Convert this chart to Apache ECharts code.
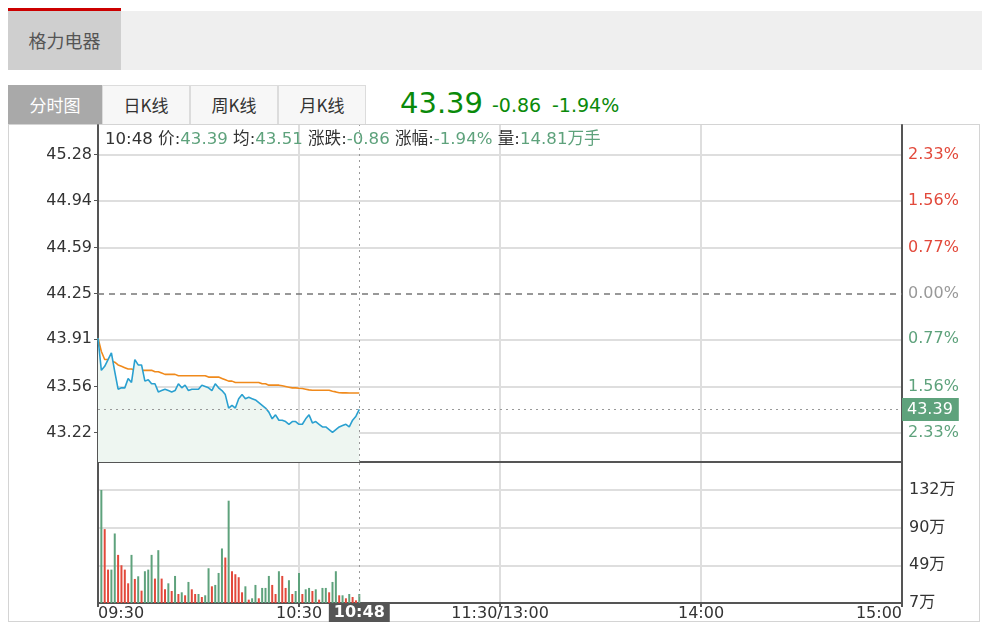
<!DOCTYPE html>
<html>
<head>
<meta charset="utf-8">
<script src="https://cdn.jsdelivr.net/npm/echarts@6/dist/echarts.min.js"></script>
<style>
html,body{margin:0;padding:0}
body{width:982px;height:640px;position:relative;background:#fff;overflow:hidden;font-family:"DejaVu Sans","Noto Sans CJK SC",sans-serif}
#redbar{position:absolute;left:8px;top:8px;width:113px;height:3px;background:#cc0000}
#band{position:absolute;left:8px;top:11px;width:974px;height:59px;background:#efefef}
#stock{position:absolute;left:8px;top:11px;width:113px;height:59px;background:#cfcfcf;color:#555;font-size:18px;line-height:59px;text-align:center;font-family:"Noto Sans CJK SC",sans-serif}
.tab{position:absolute;top:85px;height:39px;line-height:38px;text-align:center;font-size:17px;box-sizing:border-box;border:1px solid #dcdcdc;border-bottom:none;background:#f7f7f7;color:#333;font-family:"Noto Sans CJK SC","DejaVu Sans",sans-serif}
#t0{left:8px;width:94px;background:#a9a9a9;color:#fff;border-color:#a9a9a9}
#t1{left:102px;width:88px}
#t2{left:190px;width:88px}
#t3{left:278px;width:88px}
#quote{position:absolute;left:400px;top:84px;color:#0a8a0a;white-space:nowrap;height:36px}
#qp{font-size:29px;position:absolute;left:0;top:2px}
#qc{font-size:19px;position:absolute;left:92px;top:10px}
#qr{font-size:19px;position:absolute;left:152px;top:10px}
#box{position:absolute;left:8px;top:124px;width:972px;height:498px;border:1px solid #d4d4d4;box-sizing:border-box}
#chart{position:absolute;left:0;top:0;width:982px;height:640px}
</style>
</head>
<body>
<div id="redbar"></div>
<div id="band"></div>
<div id="stock">格力电器</div>
<div class="tab" id="t0">分时图</div>
<div class="tab" id="t1">日K线</div>
<div class="tab" id="t2">周K线</div>
<div class="tab" id="t3">月K线</div>
<div id="quote"><span id="qp"></span><span id="qc"></span><span id="qr"></span></div>
<div id="box"></div>
<div id="chart"></div>
<script>
// ---------- data ----------
const preClose = 44.25;
const prices = [43.92,43.68,43.71,43.76,43.81,43.67,43.54,43.55,43.55,43.62,
  43.59,43.76,43.72,43.72,43.60,43.61,43.58,43.58,43.52,43.53,
  43.54,43.53,43.52,43.53,43.58,43.55,43.57,43.53,43.54,43.54,
  43.54,43.57,43.56,43.55,43.53,43.58,43.55,43.53,43.50,43.40,
  43.42,43.40,43.47,43.50,43.47,43.48,43.47,43.46,43.44,43.42,
  43.40,43.37,43.32,43.35,43.31,43.31,43.30,43.28,43.30,43.30,
  43.28,43.28,43.32,43.35,43.29,43.30,43.28,43.26,43.26,43.24,
  43.22,43.24,43.26,43.27,43.28,43.26,43.31,43.34,43.39];
const avgPrices = [43.92,43.82,43.76,43.76,43.75,43.74,43.72,43.71,43.70,43.69,
  43.69,43.68,43.68,43.68,43.68,43.68,43.68,43.67,43.67,43.66,
  43.65,43.65,43.65,43.65,43.64,43.64,43.64,43.64,43.64,43.64,
  43.64,43.64,43.64,43.63,43.63,43.63,43.63,43.62,43.61,43.60,
  43.60,43.59,43.59,43.59,43.59,43.59,43.59,43.59,43.59,43.58,
  43.58,43.57,43.57,43.57,43.57,43.565,43.56,43.555,43.55,43.55,
  43.547,43.545,43.54,43.535,43.532,43.532,43.532,43.532,43.532,43.532,
  43.525,43.52,43.514,43.513,43.513,43.512,43.512,43.512,43.512];
// volume in 万 per minute, 09:30 has no bar
const volumes = ['-',132,86.3,39,39,81.2,56.2,44.1,39,23,56.2,
  28.1,31.2,14.4,37.1,39,56.2,28.5,61.7,28.5,16,
  23,14,31.6,10.5,12.5,9,24.6,16,10.5,10.5,
  7,9,40.6,19.5,21.1,35.1,63.7,53.1,119.5,37.1,
  33.6,30.1,12.5,19.5,3.9,5.5,21.1,5.5,17.6,17.6,
  31.6,21.1,10.5,37.1,31.6,17.6,26.6,10.5,14,35.1,
  10.5,16,17.6,14,16,3.9,17.6,17.6,12.5,24.6,
  37.1,9,9,5.5,10.5,7,3.1,10.5];
// bar colour per minute (same index as volumes): 1 = red, 0 = green
const volUp = [0,0,1,1,0,0,1,1,1,1,0,
  1,0,1,0,0,0,1,0,1,1,
  0,1,0,1,0,1,0,1,1,0,
  1,0,0,1,0,0,0,1,0,1,
  1,1,1,0,1,0,0,1,0,0,
  0,1,1,0,1,1,0,1,0,0,
  1,0,0,1,0,1,0,0,1,0,
  0,1,0,1,0,1,1,0];
const priceTicks = [43.22,43.56,43.91,44.25,44.59,44.94,45.28];
const pctLabels  = ['2.33%','1.56%','0.77%','0.00%','0.77%','1.56%','2.33%'];
const volTicks = [0,44,88,132];
const volLabels = ['7万','49万','90万','132万'];
const xTickIdx = [0,60,120,180,240];
const xTickText = ['09:30','10:30','11:30/13:00','14:00','15:00'];
const infoVolume = '14.81万手';

// trading-minute categories 09:30-11:30, 13:01-15:00
const times = [];
const fmt = (t) => String(Math.floor(t/60)).padStart(2,'0')+':'+String(t%60).padStart(2,'0');
for (let t = 9*60+30; t <= 11*60+30; t++) times.push(fmt(t));
for (let t = 13*60+1; t <= 15*60; t++) times.push(fmt(t));

const last = prices[prices.length-1];
const lastTime = times[prices.length-1];
const avgLast = avgPrices[avgPrices.length-1];
const chg = last - preClose;
const pct = chg / preClose * 100;

document.getElementById('qp').textContent = last.toFixed(2);
document.getElementById('qc').textContent = chg.toFixed(2);
document.getElementById('qr').textContent = pct.toFixed(2) + '%';

const RED = '#e2493b', GREEN = '#5ea27c', GRID = '#dedede', AXIS = '#555';
const FONT = '"DejaVu Sans","Noto Sans CJK SC",sans-serif';
const FS = 16;
const nearestIdx = (arr, v) => { let b = 0; arr.forEach((a,i)=>{ if (Math.abs(a-v) < Math.abs(arr[b]-v)) b = i; }); return b; };
const splitColors = priceTicks.map(v => v === preClose ? 'rgba(0,0,0,0)' : GRID);
const volMax = 164.7;

const chart = echarts.init(document.getElementById('chart'));
chart.setOption({
  animation: false,
  backgroundColor: 'transparent',
  textStyle: { fontFamily: FONT },
  title: {
    left: 105, top: 131, padding: 0,
    text: `{k|${lastTime} 价:}{v|${last.toFixed(2)}}{k| 均:}{v|${avgLast.toFixed(2)}}{k| 涨跌:}{v|${chg.toFixed(2)}}{k| 涨幅:}{v|${pct.toFixed(2)}%}{k| 量:}{v|${infoVolume}}`,
    textStyle: {
      fontSize: 16.6, fontWeight: 'normal',
      rich: {
        k: { color: '#333', fontSize: 16.6, fontFamily: FONT },
        v: { color: GREEN, fontSize: 16.6, fontFamily: FONT }
      }
    }
  },
  grid: [
    { left: 98, right: 80, top: 125, height: 337 },
    { left: 98, right: 80, top: 462, height: 141 }
  ],
  xAxis: [
    {
      type: 'category', gridIndex: 0, data: times, boundaryGap: false,
      axisLine: { show: true, lineStyle: { color: AXIS, width: 2 } },
      axisTick: { show: false }, axisLabel: { show: false },
      splitLine: { show: true, interval: (i) => i === 60 || i === 120 || i === 180, lineStyle: { color: GRID, width: 2 } }
    },
    {
      type: 'category', gridIndex: 1, data: times, boundaryGap: false,
      axisLine: { show: true, lineStyle: { color: AXIS, width: 2 } },
      axisTick: { show: true, interval: (i) => xTickIdx.includes(i), length: 4, lineStyle: { color: AXIS, width: 2 } },
      axisLabel: {
        interval: (i) => xTickIdx.includes(i),
        formatter: (v, i) => { const k = xTickIdx.indexOf(i); return k >= 0 ? xTickText[k] : ''; },
        color: '#333', fontSize: FS, margin: 3,
        alignMinLabel: 'left', alignMaxLabel: 'right'
      },
      splitLine: { show: true, interval: (i) => i === 60 || i === 120 || i === 180, lineStyle: { color: GRID, width: 2 } }
    }
  ],
  yAxis: [
    {
      type: 'value', gridIndex: 0, position: 'left', min: 43.0, max: 45.5,
      axisLine: { show: true, lineStyle: { color: AXIS, width: 2 } },
      axisTick: { show: true, customValues: priceTicks, length: 4, lineStyle: { color: AXIS } },
      axisLabel: { customValues: priceTicks, formatter: (v) => v.toFixed(2), color: '#333', fontSize: FS, margin: 6 },
      splitLine: { show: true, lineStyle: { color: splitColors, width: 2 } }
    },
    {
      type: 'value', gridIndex: 0, position: 'right', min: 43.0, max: 45.5,
      axisLine: { show: true, lineStyle: { color: AXIS, width: 2 } },
      axisTick: { show: false, customValues: priceTicks },
      axisLabel: {
        customValues: priceTicks,
        formatter: (v) => pctLabels[nearestIdx(priceTicks, v)],
        color: (v) => { const t = priceTicks[nearestIdx(priceTicks, v)]; return t > preClose ? RED : (t < preClose ? GREEN : '#999'); },
        fontSize: FS, margin: 6
      },
      splitLine: { show: false }
    },
    {
      type: 'value', gridIndex: 1, position: 'right', min: 0, max: volMax,
      axisLine: { show: true, lineStyle: { color: AXIS, width: 2 } },
      axisTick: { show: false, customValues: volTicks },
      axisLabel: { customValues: volTicks, formatter: (v) => volLabels[nearestIdx(volTicks, v)], color: '#333', fontSize: FS, margin: 7 },
      splitLine: { show: true, lineStyle: { color: GRID, width: 2 } }
    },
    {
      type: 'value', gridIndex: 1, position: 'left', min: 0, max: volMax,
      axisLine: { show: true, lineStyle: { color: AXIS, width: 2 } },
      axisTick: { show: false }, axisLabel: { show: false }, splitLine: { show: false }
    }
  ],
  series: [
    {
      name: '价格', type: 'line', xAxisIndex: 0, yAxisIndex: 0, data: prices,
      symbol: 'none', z: 4,
      lineStyle: { color: '#2aa0d0', width: 1.6 },
      areaStyle: { color: '#eef6f1', origin: 'start', opacity: 1 },
      markLine: {
        silent: true, symbol: 'none', animation: false,
        data: [
          { yAxis: preClose, lineStyle: { color: '#777', type: [6, 5], width: 1.5 }, label: { show: false } },
          { yAxis: last, lineStyle: { color: '#999', type: [2, 4], width: 1 },
            label: { show: true, position: 'end', distance: 0, formatter: last.toFixed(2), backgroundColor: GREEN, color: '#fff', fontSize: FS, padding: [4, 6, 3, 5] } },
          { xAxis: lastTime, lineStyle: { color: '#999', type: [2, 4], width: 1 }, label: { show: false } }
        ]
      }
    },
    {
      name: '均价', type: 'line', xAxisIndex: 0, yAxisIndex: 0, data: avgPrices,
      symbol: 'none', z: 3,
      lineStyle: { color: '#f08a1c', width: 1.6 }
    },
    {
      name: '成交量', type: 'bar', xAxisIndex: 1, yAxisIndex: 2, barWidth: 2,
      data: volumes.map((v, i) => ({ value: v, itemStyle: { color: volUp[i] ? RED : GREEN } })),
      markLine: {
        silent: true, symbol: 'none', animation: false,
        data: [
          { xAxis: lastTime, lineStyle: { color: '#999', type: [2, 4], width: 1 },
            label: { show: true, position: 'start', distance: 0, formatter: lastTime, backgroundColor: '#555', color: '#fff', fontSize: FS, fontWeight: 'bold', padding: [2, 5, 1, 5] } }
        ]
      }
    }
  ]
});
</script>
</body>
</html>
